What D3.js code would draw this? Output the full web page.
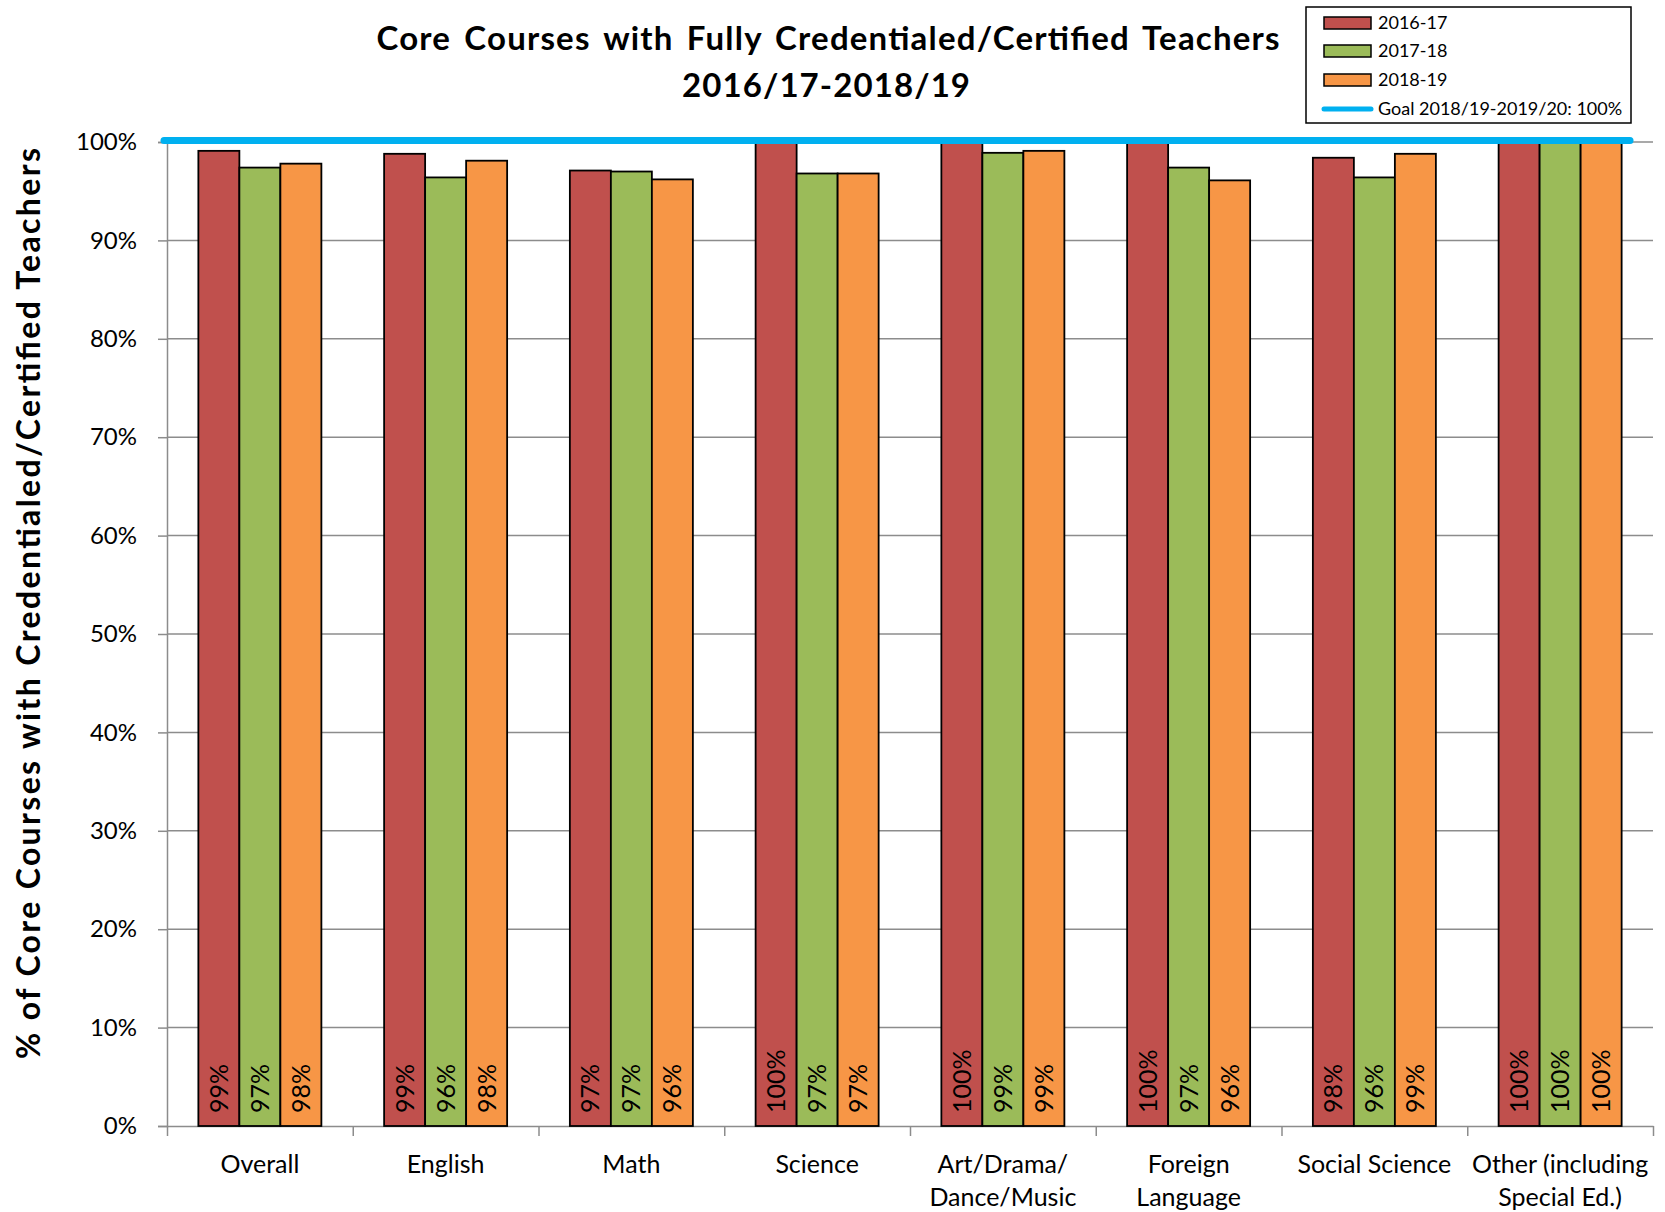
<!DOCTYPE html>
<html>
<head>
<meta charset="utf-8">
<script src="https://cdn.jsdelivr.net/npm/d3@7"></script>
<style>
body { margin: 0; background: #fff; }
text { font-family: Lato, "Open Sans", sans-serif; fill: #000; }
</style>
</head>
<body>
<script>
// categories (one array per label line)
var categories = [
    ["Overall"], ["English"], ["Math"], ["Science"],
    ["Art/Drama/", "Dance/Music"], ["Foreign", "Language"],
    ["Social Science"], ["Other (including", "Special Ed.)"]
];
var seriesNames = ["2016-17", "2017-18", "2018-19"];
var vals1617 = [99.1, 98.8, 97.1, 100, 100, 100, 98.4, 100];
var vals1718 = [97.4, 96.4, 97.0, 96.8, 98.9, 97.4, 96.4, 100];
var vals1819 = [97.8, 98.1, 96.2, 96.8, 99.1, 96.1, 98.8, 100];
var goalValue = 100;
var goalName = "Goal 2018/19-2019/20: 100%";
var yTicks = [0, 10, 20, 30, 40, 50, 60, 70, 80, 90, 100];
var colors = ["#C0504D", "#9BBB59", "#F79646"];

var series = [vals1617, vals1718, vals1819];

var W = 1665, H = 1212;
var plotLeft = 167, plotRight = 1653, plotTop = 142, plotBottom = 1126;

var svg = d3.select("body").append("svg")
    .attr("width", W)
    .attr("height", H);

var x = d3.scaleBand()
    .domain(d3.range(categories.length))
    .range([plotLeft, plotRight]);

var xs = d3.scaleBand()
    .domain(seriesNames)
    .range([0, x.bandwidth()])
    .paddingInner(0)
    .paddingOuter(0.765);

var y = d3.scaleLinear()
    .domain([0, 100])
    .range([plotBottom, plotTop]);

// gridlines
svg.append("g")
    .selectAll("line")
    .data(yTicks.filter(function (d) { return d > 0; }))
    .enter()
    .append("line")
    .attr("x1", plotLeft)
    .attr("x2", plotRight)
    .attr("y1", function (d) { return y(d); })
    .attr("y2", function (d) { return y(d); })
    .attr("stroke", "#8c8c8c")
    .attr("stroke-width", 1.5);

// y axis
var yAxis = svg.append("g")
    .attr("transform", "translate(" + plotLeft + ",0)")
    .call(d3.axisLeft(y).tickValues(yTicks)
        .tickFormat(function (d) { return d + "%"; })
        .tickSize(9).tickPadding(21));
yAxis.select(".domain").attr("stroke", "#8c8c8c").attr("stroke-width", 1.5);
yAxis.selectAll(".tick line").attr("stroke", "#8c8c8c").attr("stroke-width", 1.5);
yAxis.selectAll("text").style("font-size", "24px").style("font-family", "Lato");

// x axis with ticks at category boundaries
var xEdge = d3.scaleLinear().domain([0, categories.length]).range([plotLeft, plotRight]);
var xAxis = svg.append("g")
    .attr("transform", "translate(0," + plotBottom + ")")
    .call(d3.axisBottom(xEdge).tickValues(d3.range(categories.length + 1))
        .tickFormat("").tickSize(10).tickSizeOuter(0));
xAxis.select(".domain").attr("stroke", "#8c8c8c").attr("stroke-width", 1.5);
xAxis.selectAll(".tick line").attr("stroke", "#8c8c8c").attr("stroke-width", 1.5);

// bars
series.forEach(function (vals, s) {
    var g = svg.append("g");
    g.selectAll("rect")
        .data(vals)
        .enter()
        .append("rect")
        .attr("x", function (d, i) { return x(i) + xs(seriesNames[s]); })
        .attr("y", function (d) { return y(d); })
        .attr("width", xs.bandwidth())
        .attr("height", function (d) { return y(0) - y(d); })
        .attr("fill", colors[s])
        .attr("stroke", "#000")
        .attr("stroke-width", 1.8);

    g.selectAll("text")
        .data(vals)
        .enter()
        .append("text")
        .attr("transform", function (d, i) {
            var cx = x(i) + xs(seriesNames[s]) + xs.bandwidth() / 2;
            return "translate(" + cx + "," + (y(0) - 13) + ") rotate(-90)";
        })
        .attr("dy", "0.36em")
        .style("font-size", "25px")
        .text(function (d) { return Math.round(d) + "%"; });
});

// goal line
var goalLine = d3.line()
    .x(function (d) { return d[0]; })
    .y(function (d) { return y(d[1]) - 1.5; });
svg.append("path")
    .attr("d", goalLine([[plotLeft - 3, goalValue], [plotRight - 23, goalValue]]))
    .attr("stroke", "#00B0F0")
    .attr("stroke-width", 7)
    .attr("stroke-linecap", "round")
    .attr("fill", "none");

// category labels
var catG = svg.append("g").selectAll("text")
    .data(categories)
    .enter()
    .append("text")
    .attr("text-anchor", "middle")
    .style("font-size", "25px");
catG.selectAll("tspan")
    .data(function (d, i) { return d.map(function (t) { return { t: t, i: i }; }); })
    .enter()
    .append("tspan")
    .attr("x", function (d) { return x(d.i) + x.bandwidth() / 2; })
    .attr("y", function (d, j) { return 1173 + j * 33; })
    .text(function (d) { return d.t; });

// title
svg.append("text")
    .attr("x", 828).attr("y", 50)
    .attr("text-anchor", "middle")
    .attr("textLength", 903)
    .attr("lengthAdjust", "spacing")
    .style("font-size", "33px").style("font-weight", "bold")
    .style("word-spacing", "4px")
    .text("Core Courses with Fully Credentialed/Certified Teachers");
svg.append("text")
    .attr("x", 826).attr("y", 97)
    .attr("text-anchor", "middle")
    .attr("textLength", 288)
    .attr("lengthAdjust", "spacing")
    .style("font-size", "33px").style("font-weight", "bold")
    .text("2016/17-2018/19");

// y axis title
svg.append("text")
    .attr("transform", "translate(40,603.5) rotate(-90)")
    .attr("text-anchor", "middle")
    .attr("textLength", 911)
    .attr("lengthAdjust", "spacing")
    .style("font-size", "32px").style("font-weight", "bold")
    .text("% of Core Courses with Credentialed/Certified Teachers");

// legend
var legend = svg.append("g");
legend.append("rect")
    .attr("x", 1306).attr("y", 7)
    .attr("width", 325).attr("height", 116)
    .attr("fill", "#fff").attr("stroke", "#000").attr("stroke-width", 1.5);
var rowY = [23, 51, 80, 109];
seriesNames.forEach(function (name, s) {
    legend.append("rect")
        .attr("x", 1324).attr("y", rowY[s] - 6)
        .attr("width", 47).attr("height", 12)
        .attr("fill", colors[s]).attr("stroke", "#000").attr("stroke-width", 1.5);
    legend.append("text")
        .attr("x", 1378).attr("y", rowY[s]).attr("dy", "0.36em")
        .style("font-size", "18px")
        .text(name);
});
legend.append("line")
    .attr("x1", 1324).attr("x2", 1371)
    .attr("y1", rowY[3]).attr("y2", rowY[3])
    .attr("stroke", "#00B0F0").attr("stroke-width", 5).attr("stroke-linecap", "round");
legend.append("text")
    .attr("x", 1378).attr("y", rowY[3]).attr("dy", "0.36em")
    .style("font-size", "18px")
    .text(goalName);
</script>
</body>
</html>
